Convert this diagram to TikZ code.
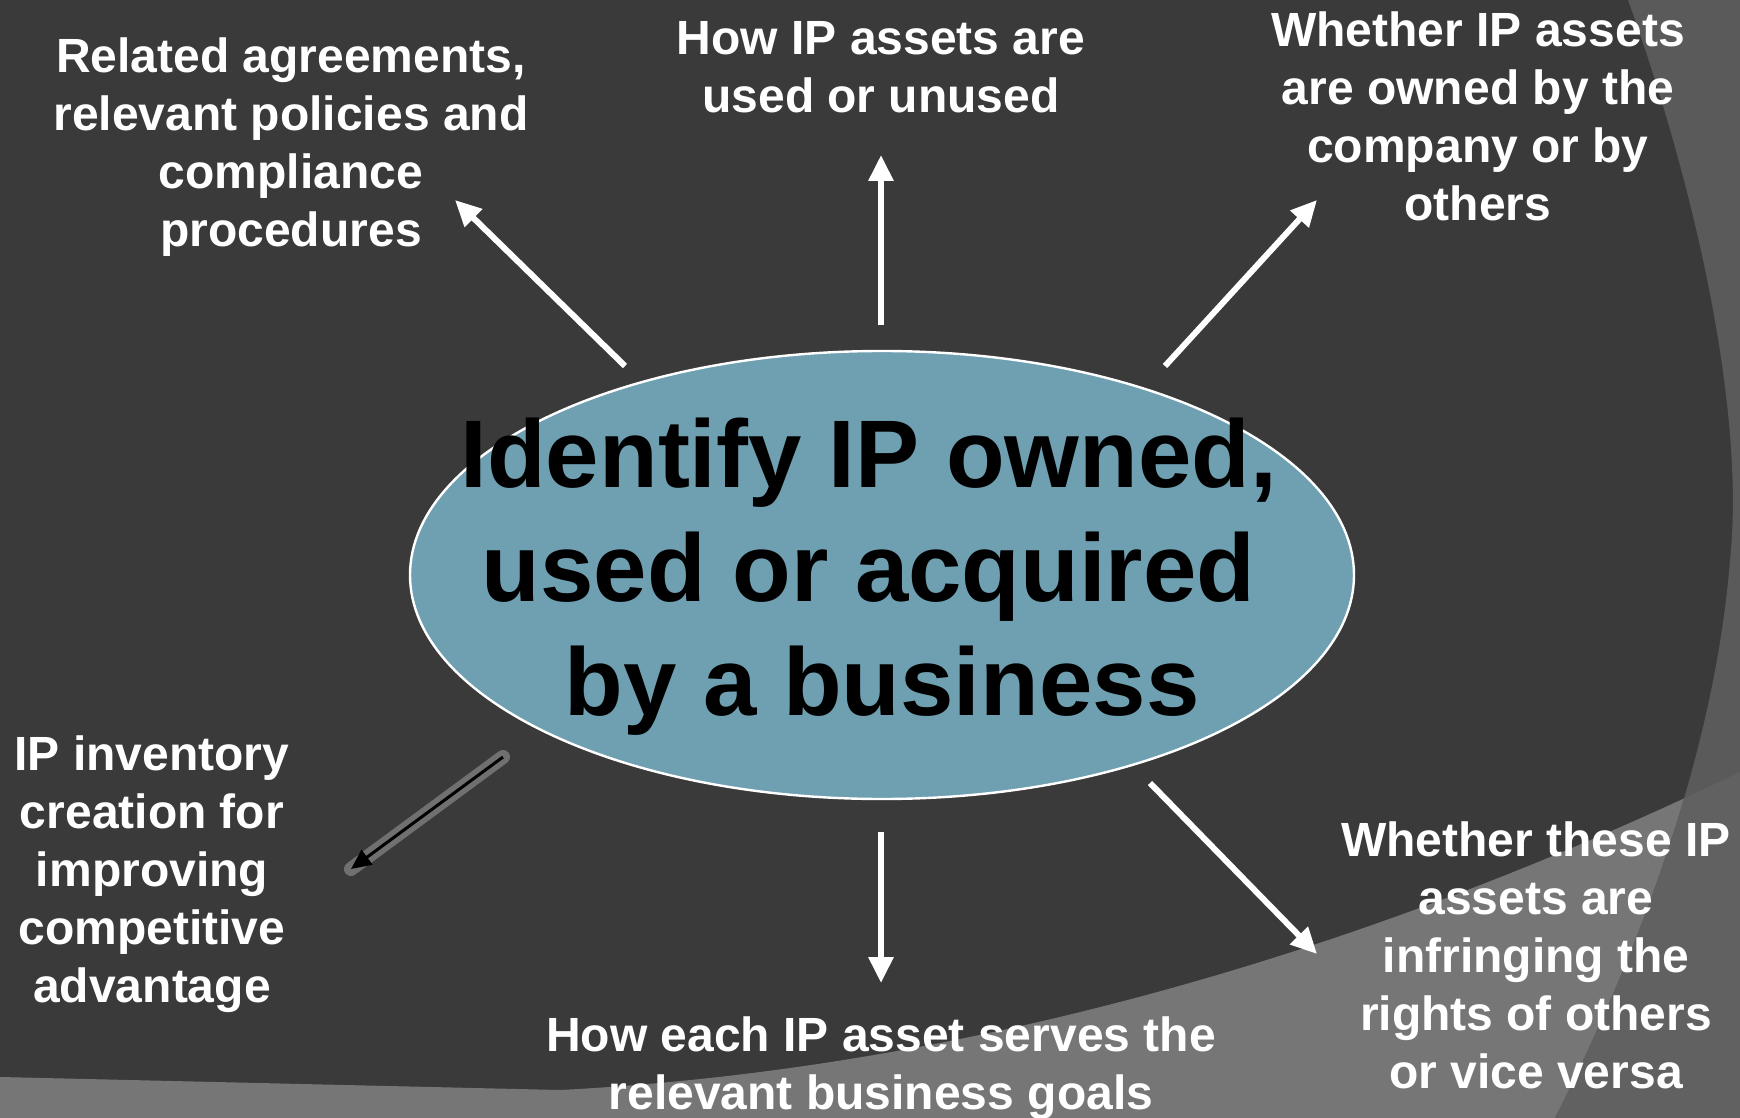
\documentclass[tikz,border=0pt]{standalone}
\usepackage{fontspec}
\setmainfont{Liberation Sans}
\usetikzlibrary{shapes.geometric,arrows.meta}
\definecolor{bgdark}{HTML}{3A3A3A}
\definecolor{bglight}{HTML}{767676}
\definecolor{bgmid}{HTML}{5A5A5A}
\definecolor{bgmidlow}{HTML}{616161}
\definecolor{ellfill}{HTML}{6FA0B1}
\begin{document}
\begin{tikzpicture}[x=0.5pt,y=-0.5pt,
  lbl/.style={text=white,font=\bfseries\fontsize{24}{29}\selectfont,align=center,inner sep=0pt},
  centertext/.style={text=black,font=\bfseries\fontsize{48}{57}\selectfont,align=center,inner sep=0pt},
  warrow/.style={draw=white,line width=3pt,-{Triangle[length=13pt,width=12pt]}},
  barrow/.style={draw=black,line width=1.5pt,-{Triangle[length=10pt,width=9pt]}},
  glow/.style={draw=gray!70,line width=7pt,line cap=round,opacity=0.5},
  bubble/.style={ellipse,draw=white,line width=1.2pt,fill=ellfill,minimum width=472pt,minimum height=224pt,inner sep=0pt}]
\useasboundingbox (0,0) rectangle (1740,1118);
% background
\fill[bgdark] (0,0) rectangle (1740,1118);
\fill[bglight] (0,1077) -- (560,1090) .. controls (950,1070) and (1350,960) .. (1740,772) -- (1740,1118) -- (0,1118) -- cycle;
\fill[bgmid] (1628,0) .. controls (1700,200) and (1745,420) .. (1730,560) .. controls (1715,750) and (1640,950) .. (1555,1118) -- (1740,1118) -- (1740,0) -- cycle;
\begin{scope}
  \clip (0,1077) -- (560,1090) .. controls (950,1070) and (1350,960) .. (1740,772) -- (1740,1118) -- (0,1118) -- cycle;
  \fill[bgmidlow] (1628,0) .. controls (1700,200) and (1745,420) .. (1730,560) .. controls (1715,750) and (1640,950) .. (1555,1118) -- (1740,1118) -- (1740,0) -- cycle;
\end{scope}
% central ellipse
\node[bubble] (ell) at (882,575) {};
\node[centertext] (ct) at (882,577) {Identify IP owned,\makebox[0.278em]{}\\used or acquired\makebox[0.278em]{}\\by a business};
% labels
\node[lbl] (tl) at (291,147) {Related agreements,\\relevant policies and\\compliance\\procedures};
\node[lbl] (tc) at (881,67) {How IP assets are\\used or unused};
\node[lbl] (tr) at (1478,116) {Whether IP assets\\are owned by the\\company or by\\others};
\node[lbl] (lf) at (152,874) {IP inventory\\creation for\\improving\\competitive\\advantage};
\node[lbl] (bc) at (881,1068) {How each IP asset serves the\\relevant business goals};
\node[lbl] (br) at (1536,955) {Whether these IP\\assets are\\infringing the\\rights of others\\or vice versa};
% arrow end points
\coordinate (a1s) at (625,366);
\coordinate (a1e) at (455,200);
\coordinate (a2s) at (881,325);
\coordinate (a2e) at (881,155);
\coordinate (a3s) at (1165,366);
\coordinate (a3e) at (1317,200);
\coordinate (a4s) at (503,757);
\coordinate (a4e) at (351,869);
\coordinate (a5s) at (881,832);
\coordinate (a5e) at (881,983);
\coordinate (a6s) at (1150,783);
\coordinate (a6e) at (1317,954);
% arrows
\draw[warrow] (a1s) -- (a1e);
\draw[warrow] (a2s) -- (a2e);
\draw[warrow] (a3s) -- (a3e);
\draw[warrow] (a5s) -- (a5e);
\draw[warrow] (a6s) -- (a6e);
\draw[glow] (a4s) -- (a4e);
\draw[barrow] (a4s) -- (a4e);
\end{tikzpicture}
\end{document}
